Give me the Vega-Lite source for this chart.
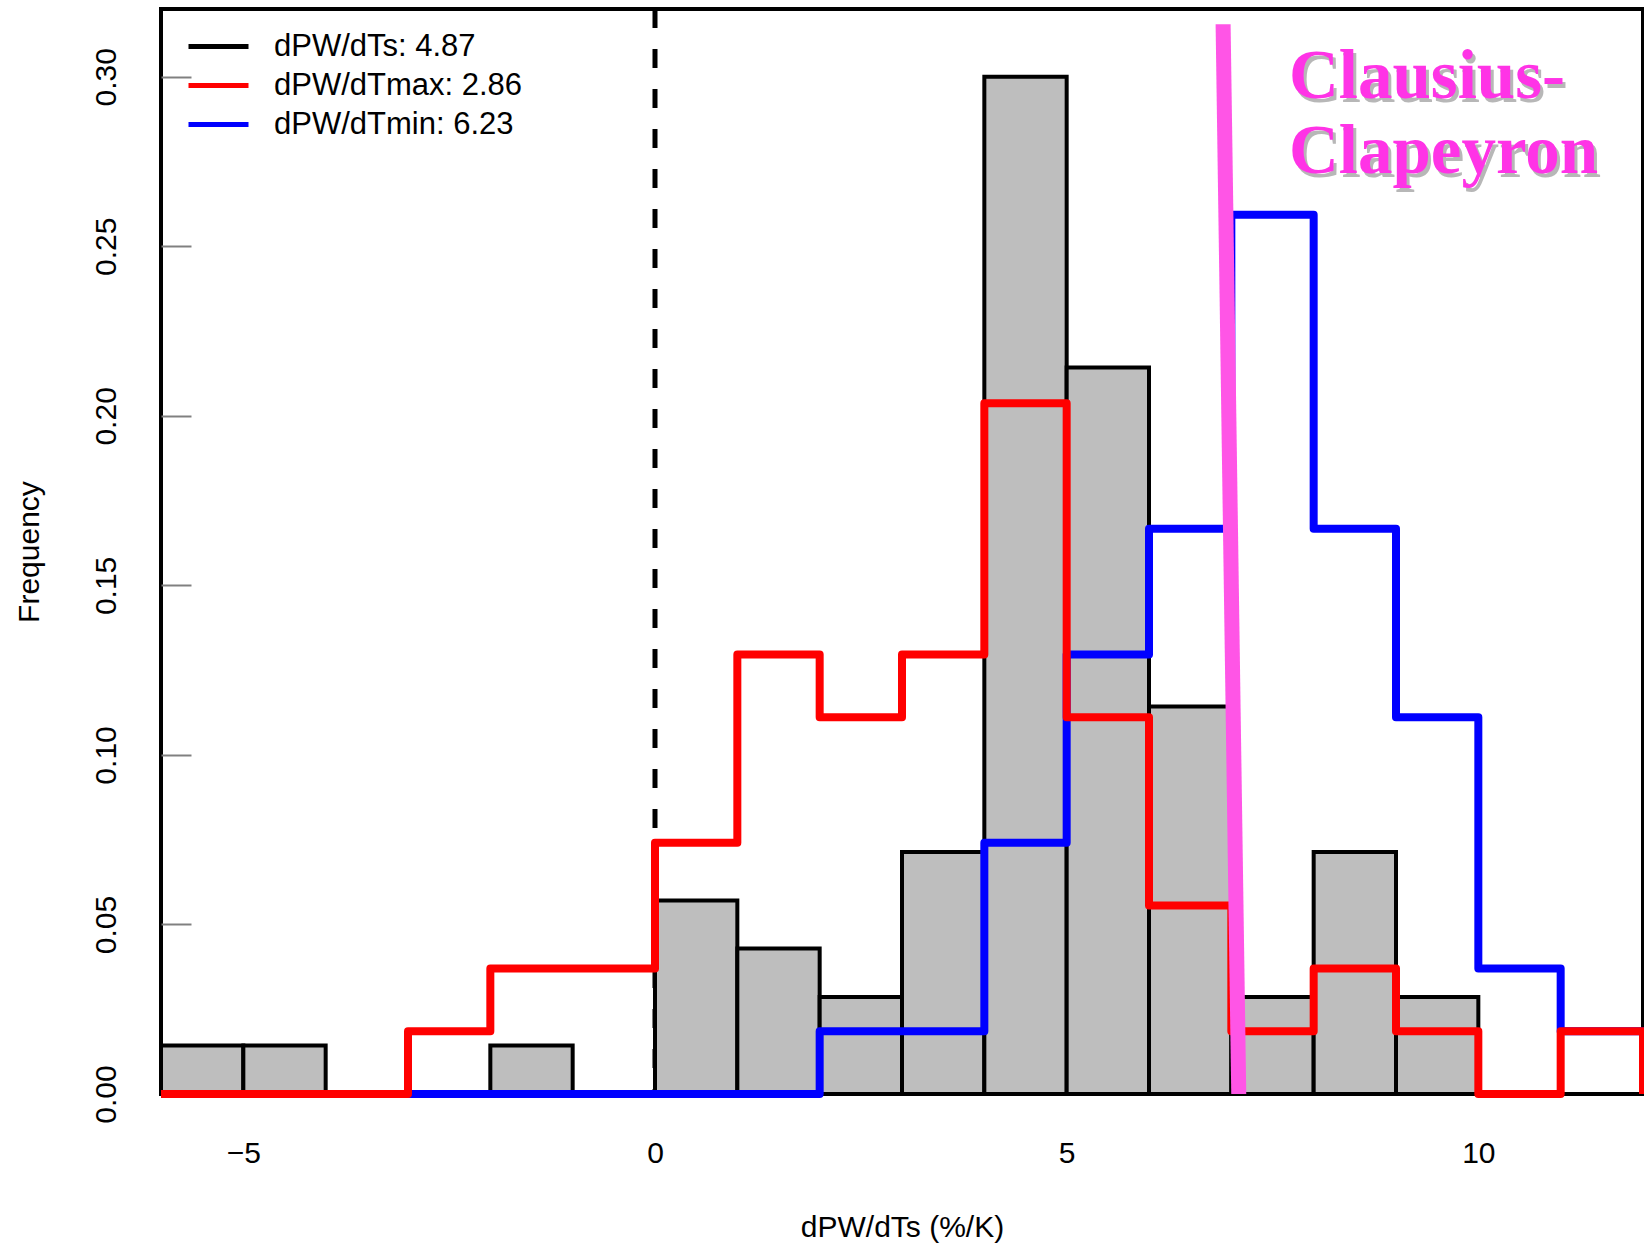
{
  "$schema": "https://vega.github.io/schema/vega-lite/v6.json",
  "width": 1482,
  "height": 1085,
  "autosize": {"type": "none"},
  "padding": {"left": 161, "top": 9, "right": 1, "bottom": 154},
  "background": "white",
  "config": {
    "view": {"stroke": "black", "strokeWidth": 4},
    "font": "Liberation Sans",
    "axis": {"labelFont": "Liberation Sans", "titleFont": "Liberation Sans", "labelColor": "black", "titleColor": "black", "labelFontSize": 30, "titleFontSize": 30, "titleFontWeight": "normal", "grid": false, "domain": false},
    "legend": {"labelFont": "Liberation Sans", "labelFontSize": 31, "labelColor": "black", "labelLimit": 0}
  },
  "datasets": {
    "hist": [
      {"lo": -6, "hi": -5, "freq": 0.0143},
      {"lo": -5, "hi": -4, "freq": 0.0143},
      {"lo": -4, "hi": -3, "freq": 0},
      {"lo": -3, "hi": -2, "freq": 0},
      {"lo": -2, "hi": -1, "freq": 0.0143},
      {"lo": -1, "hi": 0, "freq": 0},
      {"lo": 0, "hi": 1, "freq": 0.0571},
      {"lo": 1, "hi": 2, "freq": 0.0429},
      {"lo": 2, "hi": 3, "freq": 0.0286},
      {"lo": 3, "hi": 4, "freq": 0.0714},
      {"lo": 4, "hi": 5, "freq": 0.3},
      {"lo": 5, "hi": 6, "freq": 0.2143},
      {"lo": 6, "hi": 7, "freq": 0.1143},
      {"lo": 7, "hi": 8, "freq": 0.0286},
      {"lo": 8, "hi": 9, "freq": 0.0714},
      {"lo": 9, "hi": 10, "freq": 0.0286},
      {"lo": 10, "hi": 11, "freq": 0},
      {"lo": 11, "hi": 12, "freq": 0}
    ],
    "tmin": [
      {"x": -6, "freq": 0, "series": "dPW/dTmin: 6.23"},
      {"x": -5, "freq": 0, "series": "dPW/dTmin: 6.23"},
      {"x": -4, "freq": 0, "series": "dPW/dTmin: 6.23"},
      {"x": -3, "freq": 0, "series": "dPW/dTmin: 6.23"},
      {"x": -2, "freq": 0, "series": "dPW/dTmin: 6.23"},
      {"x": -1, "freq": 0, "series": "dPW/dTmin: 6.23"},
      {"x": 0, "freq": 0, "series": "dPW/dTmin: 6.23"},
      {"x": 1, "freq": 0, "series": "dPW/dTmin: 6.23"},
      {"x": 2, "freq": 0.0185, "series": "dPW/dTmin: 6.23"},
      {"x": 3, "freq": 0.0185, "series": "dPW/dTmin: 6.23"},
      {"x": 4, "freq": 0.0741, "series": "dPW/dTmin: 6.23"},
      {"x": 5, "freq": 0.1296, "series": "dPW/dTmin: 6.23"},
      {"x": 6, "freq": 0.1667, "series": "dPW/dTmin: 6.23"},
      {"x": 7, "freq": 0.2593, "series": "dPW/dTmin: 6.23"},
      {"x": 8, "freq": 0.1667, "series": "dPW/dTmin: 6.23"},
      {"x": 9, "freq": 0.1111, "series": "dPW/dTmin: 6.23"},
      {"x": 10, "freq": 0.037, "series": "dPW/dTmin: 6.23"},
      {"x": 11, "freq": 0.0185, "series": "dPW/dTmin: 6.23"},
      {"x": 12, "freq": 0, "series": "dPW/dTmin: 6.23"}
    ],
    "tmax": [
      {"x": -6, "freq": 0, "series": "dPW/dTmax: 2.86"},
      {"x": -5, "freq": 0, "series": "dPW/dTmax: 2.86"},
      {"x": -4, "freq": 0, "series": "dPW/dTmax: 2.86"},
      {"x": -3, "freq": 0.0185, "series": "dPW/dTmax: 2.86"},
      {"x": -2, "freq": 0.037, "series": "dPW/dTmax: 2.86"},
      {"x": -1, "freq": 0.037, "series": "dPW/dTmax: 2.86"},
      {"x": 0, "freq": 0.0741, "series": "dPW/dTmax: 2.86"},
      {"x": 1, "freq": 0.1296, "series": "dPW/dTmax: 2.86"},
      {"x": 2, "freq": 0.1111, "series": "dPW/dTmax: 2.86"},
      {"x": 3, "freq": 0.1296, "series": "dPW/dTmax: 2.86"},
      {"x": 4, "freq": 0.2037, "series": "dPW/dTmax: 2.86"},
      {"x": 5, "freq": 0.1111, "series": "dPW/dTmax: 2.86"},
      {"x": 6, "freq": 0.0556, "series": "dPW/dTmax: 2.86"},
      {"x": 7, "freq": 0.0185, "series": "dPW/dTmax: 2.86"},
      {"x": 8, "freq": 0.037, "series": "dPW/dTmax: 2.86"},
      {"x": 9, "freq": 0.0185, "series": "dPW/dTmax: 2.86"},
      {"x": 10, "freq": 0, "series": "dPW/dTmax: 2.86"},
      {"x": 11, "freq": 0.0185, "series": "dPW/dTmax: 2.86"},
      {"x": 12, "freq": 0, "series": "dPW/dTmax: 2.86"}
    ],
    "zero": [{"x": 0}],
    "cc": [{"x1": 6.9, "x2": 7.09, "y1": 0.3155, "y2": 0}],
    "label": [
      {"text": "Clausius-", "x": 7.7, "y": 0.2937},
      {"text": "Clapeyron", "x": 7.7, "y": 0.2716}
    ]
  },
  "layer": [
    {
      "data": {"name": "zero"},
      "mark": {"type": "rule", "color": "black", "strokeWidth": 5, "strokeDash": [19, 21]},
      "encoding": {
        "x": {"field": "x", "type": "quantitative"}
      }
    },
    {
      "data": {"name": "hist"},
      "mark": {"type": "rect", "fill": "#BEBEBE", "stroke": "black", "strokeWidth": 4},
      "encoding": {
        "x": {"field": "lo", "type": "quantitative", "scale": {"domain": [-6, 12], "nice": false, "zero": false},
          "axis": {"values": [-5, 0, 5, 10], "format": "d", "title": "dPW/dTs (%/K)", "ticks": false, "labelPadding": 44, "titlePadding": 44, "labelFlush": false}},
        "x2": {"field": "hi"},
        "y": {"field": "freq", "type": "quantitative", "scale": {"domain": [0, 0.32], "nice": false},
          "axis": {"values": [0, 0.05, 0.1, 0.15, 0.2, 0.25, 0.3], "format": ".2f", "title": "Frequency", "tickSize": -30, "tickColor": "#808080", "tickWidth": 2, "labelAngle": 270, "labelAlign": "center", "labelBaseline": "alphabetic", "labelPadding": 76, "titlePadding": 47}},
        "y2": {"datum": 0}
      }
    },
    {
      "data": {"name": "tmin"},
      "mark": {"type": "line", "interpolate": "step-after", "strokeWidth": 8, "strokeJoin": "round"},
      "encoding": {
        "x": {"field": "x", "type": "quantitative"},
        "y": {"field": "freq", "type": "quantitative"},
        "stroke": {"field": "series", "type": "nominal",
          "scale": {"domain": ["dPW/dTs: 4.87", "dPW/dTmax: 2.86", "dPW/dTmin: 6.23"], "range": ["black", "#FF0000", "#0000FF"]},
          "legend": {"title": null, "orient": "none", "legendX": 25, "legendY": 18, "symbolType": "stroke", "symbolSize": 3600, "symbolStrokeWidth": 5, "labelOffset": 23, "padding": 0, "rowPadding": 0, "clipHeight": 39}}
      }
    },
    {
      "data": {"name": "tmax"},
      "mark": {"type": "line", "interpolate": "step-after", "strokeWidth": 8, "strokeJoin": "round"},
      "encoding": {
        "x": {"field": "x", "type": "quantitative"},
        "y": {"field": "freq", "type": "quantitative"},
        "stroke": {"field": "series", "type": "nominal"}
      }
    },
    {
      "data": {"name": "cc"},
      "mark": {"type": "rule", "color": "#FF55E6", "strokeWidth": 15},
      "encoding": {
        "x": {"field": "x1", "type": "quantitative"},
        "x2": {"field": "x2"},
        "y": {"field": "y1", "type": "quantitative"},
        "y2": {"field": "y2"}
      }
    },
    {
      "data": {"name": "label"},
      "mark": {"type": "text", "font": "Liberation Serif", "fontWeight": "bold", "fontSize": 69, "align": "left", "baseline": "alphabetic", "color": "#888888", "opacity": 0.6, "dx": 3, "dy": 4},
      "encoding": {
        "x": {"field": "x", "type": "quantitative"},
        "y": {"field": "y", "type": "quantitative"},
        "text": {"field": "text"}
      }
    },
    {
      "data": {"name": "label"},
      "mark": {"type": "text", "font": "Liberation Serif", "fontWeight": "bold", "fontSize": 69, "align": "left", "baseline": "alphabetic", "color": "#FF33E6"},
      "encoding": {
        "x": {"field": "x", "type": "quantitative"},
        "y": {"field": "y", "type": "quantitative"},
        "text": {"field": "text"}
      }
    }
  ]
}
